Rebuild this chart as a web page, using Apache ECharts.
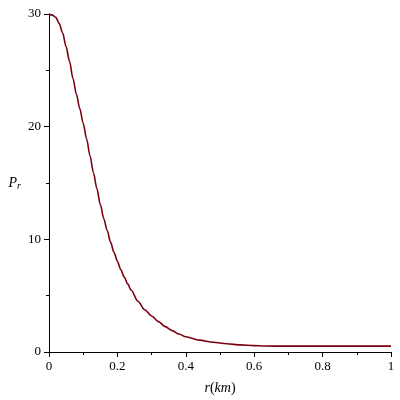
<!DOCTYPE html>
<html><head><meta charset="utf-8">
<script src="https://cdn.jsdelivr.net/npm/echarts@6/dist/echarts.min.js"></script>
<style>html,body{margin:0;padding:0;background:#fff}#c{width:400px;height:400px}</style>
</head><body><div id="c"></div>
<script>
var rValues = [0,0.01,0.02,0.03,0.04,0.05,0.06,0.07,0.08,0.09,0.10,0.11,0.12,0.13,0.14,0.15,0.16,0.17,0.18,0.19,0.20,0.21,0.22,0.23,0.24,0.26,0.28,0.30,0.32,0.34,0.36,0.38,0.40,0.44,0.48,0.52,0.56,0.60,0.63,0.70,0.80,0.90,1.00];
var prValues = [30,29.9,29.7,29.15,28.3,27.1,25.8,24.3,22.9,21.6,20.3,18.9,17.4,15.9,14.5,13.1,11.85,10.8,9.75,8.85,8.05,7.3,6.65,6.05,5.5,4.5,3.75,3.2,2.7,2.25,1.9,1.6,1.35,1.05,0.86,0.73,0.63,0.57,0.53,0.52,0.52,0.52,0.52];
var xTicks = [0,0.2,0.4,0.6,0.8,1];
var yTicks = [0,10,20,30];

var data = rValues.map(function(r,i){return [r, prValues[i]];});
var font = '"Liberation Serif", "DejaVu Serif", serif';
var chart = echarts.init(document.getElementById('c'));
chart.setOption({
  animation:false,
  backgroundColor:'#fff',
  grid:{left:49,right:9,top:14,bottom:44,containLabel:false},
  xAxis:{
    type:'value',min:0,max:1,interval:0.2,
    name:'{i|r}{n|(}{i|km}{n|)}',nameLocation:'middle',nameGap:29,
    nameTextStyle:{rich:{i:{fontFamily:font,fontStyle:'italic',fontSize:14,color:'#000'},n:{fontFamily:font,fontSize:14,color:'#000'}}},
    axisLine:{onZero:false,lineStyle:{color:'#000',width:1}},
    axisTick:{length:5,lineStyle:{color:'#000'}},
    minorTick:{show:true,splitNumber:2,length:3,lineStyle:{color:'#000'}},
    splitLine:{show:false},
    axisLabel:{fontFamily:font,fontSize:13,color:'#000',margin:8,
      formatter:function(v){return xTicks.indexOf(Math.round(v*10)/10)>=0?String(Math.round(v*10)/10):'';}}
  },
  yAxis:{
    type:'value',min:0,max:30,interval:10,
    name:'{i|P}{s|r}',nameLocation:'middle',nameGap:28,nameRotate:0,
    nameTextStyle:{rich:{i:{fontFamily:font,fontStyle:'italic',fontSize:14,color:'#000'},s:{fontFamily:font,fontStyle:'italic',fontSize:10,color:'#000',verticalAlign:'bottom',padding:[6,0,0,0]}}},
    axisLine:{onZero:false,lineStyle:{color:'#000',width:1}},
    axisTick:{length:5,lineStyle:{color:'#000'}},
    minorTick:{show:true,splitNumber:2,length:3,lineStyle:{color:'#000'}},
    splitLine:{show:false},
    axisLabel:{fontFamily:font,fontSize:13,color:'#000',margin:8,
      formatter:function(v){return yTicks.indexOf(v)>=0?String(v):'';}}
  },
  series:[{type:'line',data:data,showSymbol:false,smooth:0.3,smoothMonotone:'x',
    lineStyle:{color:'#7a0010',width:1.6}}]
});
</script></body></html>
